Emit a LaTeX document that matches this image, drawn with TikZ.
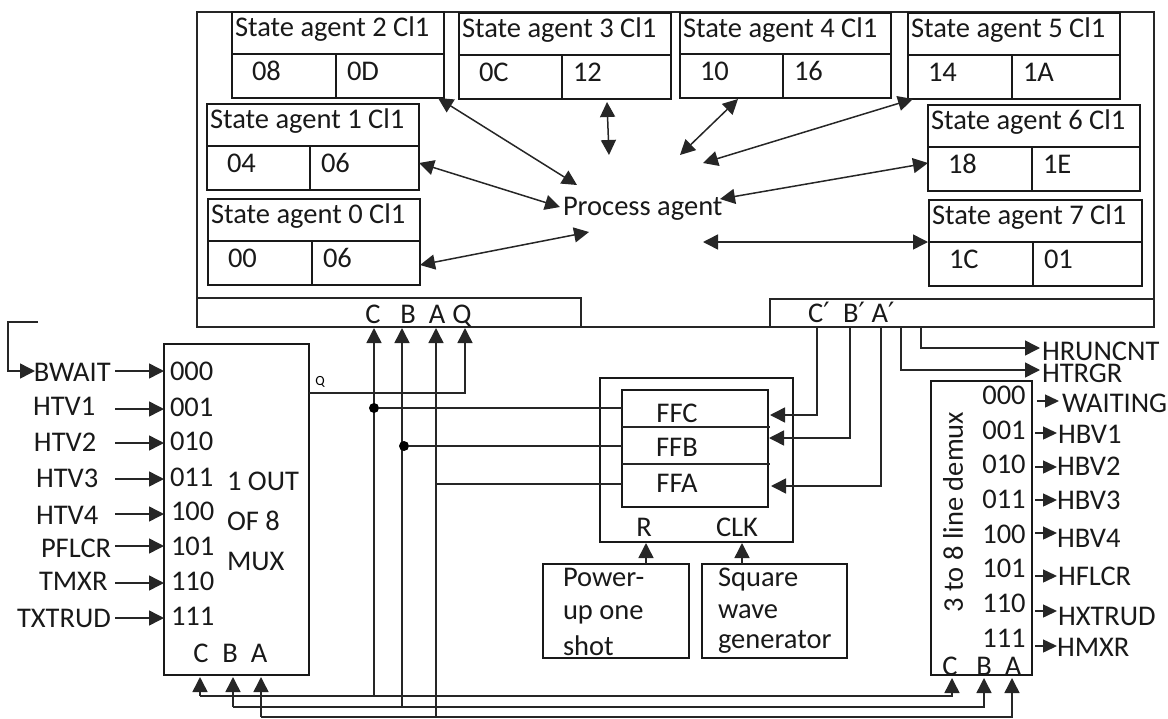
\documentclass[tikz,border=0pt]{standalone}
\usepackage{fontspec}
\setmainfont{Carlito}
\newfontfamily\primefont{DejaVu Sans}
\newcommand{\prm}{{\primefont\fontsize{28}{30}\selectfont ′}}
\usetikzlibrary{arrows.meta}
\tikzset{
  every node/.style={inner sep=0pt,outer sep=0pt},
  wire/.style={line width=1.5pt,draw=black!85},
  cell/.style={draw=black!90,line width=1.6pt,rectangle,anchor=north west},
  lbl/.style={font=\fontsize{28.5}{30}\selectfont,text=black!90,text height=18pt,text depth=0pt},
  onearrow/.style={wire,-{Triangle[length=15pt,width=15pt]}},
  twoarrow/.style={wire,{Triangle[length=15pt,width=15pt]}-{Triangle[length=15pt,width=15pt]}},
  smallarrow/.style={wire,-{Triangle[length=14pt,width=13pt]}},
  dotnode/.style={circle,fill=black,minimum size=10pt},
}
% name, x0, x1, xdiv, y0, ymid, index, left value, right value
\newcommand{\agentbox}[9]{%
  \node[cell,minimum width={(#3-#2)*1pt},minimum height={(#6-#5)*1pt}] (#1t) at (#2,#5) {};
  \node[lbl,anchor=west] (#1title) at (#2+3,#5+15) {State agent #7 Cl1};
  \node[cell,minimum width={(#4-#2)*1pt},minimum height=44pt] (#1l) at (#2,#6) {};
  \node[cell,minimum width={(#3-#4)*1pt},minimum height=44pt] (#1r) at (#4,#6) {};
  \node[lbl,anchor=west] (#1a) at (#2+20,#6+17) {#8};
  \node[lbl,anchor=west] (#1b) at (#4+11,#6+17) {#9};
}
\begin{document}
\begin{tikzpicture}[x=1pt,y=-1pt]
\useasboundingbox (0,0) rectangle (1168,718);

% outer process frame
\coordinate (o1) at (197,12); \coordinate (o2) at (197,327);
\coordinate (o3) at (1154,327); \coordinate (o4) at (1154,12);
\draw[wire] (o1) -- (o2) -- (o3) -- (o4) -- cycle;
\coordinate (b1) at (197,298); \coordinate (b2) at (581,298); \coordinate (b3) at (581,327);
\draw[wire] (b1) -- (b2) -- (b3);
\coordinate (b4) at (770,327); \coordinate (b5) at (770,299); \coordinate (b6) at (1154,299);
\draw[wire] (b4) -- (b5) -- (b6);

% state agents
\agentbox{ag2}{232}{444}{336}{12}{54}{2}{08}{0D}
\agentbox{ag3}{459}{671}{562}{13}{55}{3}{0C}{12}
\agentbox{ag4}{680}{891}{783}{13}{54}{4}{10}{16}
\agentbox{ag5}{908}{1120}{1012}{13}{55}{5}{14}{1A}
\agentbox{ag1}{207}{419}{310}{104}{146}{1}{04}{06}
\agentbox{ag0}{208}{420}{312}{199}{241}{0}{00}{06}
\agentbox{ag6}{928}{1140}{1032}{105}{147}{6}{18}{1E}
\agentbox{ag7}{929}{1142}{1033}{200}{242}{7}{1C}{01}

\node[lbl,anchor=west] (proc) at (563,206) {Process agent};

\foreach \n/\xa/\ya/\xb/\yb in {
  2/438/98/577/185, 3/607/102/609/155, 1/419/163/560/207, 0/420/265/589/232,
  4/738/99/680/155, 5/913/99/703/163, 6/928/163/720/199, 7/928/242/703/242}{
  \coordinate (pa\n) at (\xa,\ya);
  \coordinate (pb\n) at (\xb,\yb);
  \draw[twoarrow] (pa\n) -- (pb\n);
}

% bus labels
\foreach \n/\t/\x in {C/C/373,B/B/408,A/A/437,Q/Q/462}{
  \node[lbl] (top\n) at (\x,314) {\t};
}
\foreach \n/\t/\x in {C/C/819,B/B/854,A/A/883}{
  \node[lbl] (pr\n) at (\x,313) {\t\prm};
}

% MUX
\node[cell,minimum width=145pt,minimum height=331pt] (mux) at (164,344) {};
\foreach \n/\t/\x/\y in {a/000/170/371,b/001/170/407,c/010/170/441,d/011/170/477,
                         e/100/171/511,f/101/171/546,g/110/171/581,h/111/171/616}{
  \node[lbl,anchor=west] (mi\n) at (\x,\y) {\t};
}
\node[lbl,anchor=west] (m1) at (227,481) {1 OUT};
\node[lbl,anchor=west] (m2) at (227,521) {OF 8};
\node[lbl,anchor=west] (m3) at (227,561) {MUX};
\node[lbl] (mC) at (201,653) {C};
\node[lbl] (mB) at (230,653) {B};
\node[lbl] (mA) at (259,653) {A};
\node[font=\fontsize{14}{15}\selectfont] (mQ) at (320,382) {Q};

\foreach \n/\t/\x/\y/\ay in {a/BWAIT/34/372/371,b/HTV1/33/406/409,c/HTV2/34/442/443,d/HTV3/36/478/479,
   e/HTV4/36/515/514,f/PFLCR/41/548/546,g/TMXR/39/581/583,h/TXTRUD/17/618/618}{
  \node[lbl,anchor=west] (in\n) at (\x,\y) {\t};
  \coordinate (as\n) at (115,\ay);
  \coordinate (ae\n) at (164,\ay);
  \draw[onearrow] (as\n) -- (ae\n);
}
% feedback stub
\coordinate (f1) at (38,322); \coordinate (f2) at (8,322); \coordinate (f3) at (8,371); \coordinate (f4) at (35,371);
\draw[onearrow] (f1) -- (f2) -- (f3) -- (f4);

% Q output
\coordinate (q1) at (309,393); \coordinate (q2) at (465,393); \coordinate (q3) at (465,328);
\draw[onearrow] (q1) -- (q2) -- (q3);

% flip-flop block
\node[cell,minimum width=193pt,minimum height=164pt] (ffo) at (600,378) {};
\node[cell,minimum width=146pt,minimum height=117pt] (ffi) at (622,390) {};
\coordinate (d1a) at (622,427); \coordinate (d1b) at (770,427);
\coordinate (d2a) at (622,464); \coordinate (d2b) at (770,464);
\draw[wire] (d1a) -- (d1b);
\draw[wire] (d2a) -- (d2b);
\node[lbl] (tc) at (677,413) {FFC};
\node[lbl] (tb) at (677,447) {FFB};
\node[lbl] (ta) at (677,483) {FFA};
\node[lbl] (tR) at (644,527) {R};
\node[lbl] (tK) at (737,527) {CLK};

% sources
\node[cell,minimum width=146pt,minimum height=94pt] (pow) at (543,564) {};
\node[cell,minimum width=145pt,minimum height=94pt] (sq) at (702,564) {};
\node[lbl,anchor=west] (p1) at (563,577) {Power-};
\node[lbl,anchor=west] (p2) at (563,610) {up one};
\node[lbl,anchor=west] (p3) at (563,646) {shot};
\node[lbl,anchor=west] (s1) at (718,577) {Square};
\node[lbl,anchor=west] (s2) at (718,609) {wave};
\node[lbl,anchor=west] (s3) at (718,639) {generator};
\coordinate (rs) at (646,564); \coordinate (re) at (646,543);
\coordinate (cs) at (742,564); \coordinate (ce) at (742,543);
\draw[onearrow] (rs) -- (re);
\draw[onearrow] (cs) -- (ce);

% selection lines
\coordinate (tC) at (374,328); \coordinate (tB) at (402,328); \coordinate (tA) at (436,328);
\coordinate (jC) at (374,696); \coordinate (jB) at (402,707); \coordinate (jA) at (436,717);
\draw[onearrow] (jC) -- (tC);
\draw[onearrow] (jB) -- (tB);
\draw[onearrow] (jA) -- (tA);
\coordinate (mCe) at (200,677); \coordinate (mBe) at (233,677); \coordinate (mAe) at (261,677);
\coordinate (mCb) at (200,696); \coordinate (mBb) at (233,707); \coordinate (mAb) at (261,717);
\coordinate (dCb) at (952,696); \coordinate (dBb) at (984,707); \coordinate (dAb) at (1012,717);
\coordinate (dCe) at (952,678); \coordinate (dBe) at (984,678); \coordinate (dAe) at (1012,678);
\draw[onearrow] (mCb) -- (mCe);
\draw[onearrow] (mBb) -- (mBe);
\draw[onearrow] (mAb) -- (mAe);
\draw[onearrow] (mCb) -- (dCb) -- (dCe);
\draw[onearrow] (mBb) -- (dBb) -- (dBe);
\draw[onearrow] (mAb) -- (dAb) -- (dAe);

% flip-flop inputs from the lines
\coordinate (dC) at (374,408); \coordinate (dB) at (404,446); \coordinate (dA) at (436,484);
\node[dotnode] (ndC) at (dC) {};
\node[dotnode] (ndB) at (dB) {};
\coordinate (fC) at (622,408); \coordinate (fB) at (622,446); \coordinate (fA) at (622,484);
\draw[wire] (ndC) -- (fC);
\draw[wire] (ndB) -- (fB);
\draw[wire] (dA) -- (fA);

% feedback to flip-flops
\coordinate (c1) at (817,327); \coordinate (c2) at (817,415); \coordinate (c3) at (770,415);
\coordinate (bb1) at (850,327); \coordinate (bb2) at (850,438); \coordinate (bb3) at (769,438);
\coordinate (a1) at (881,327); \coordinate (a2) at (881,486); \coordinate (a3) at (771,486);
\draw[onearrow] (c1) -- (c2) -- (c3);
\draw[onearrow] (bb1) -- (bb2) -- (bb3);
\draw[onearrow] (a1) -- (a2) -- (a3);

% HRUNCNT, HTRGR
\coordinate (r1) at (921,327); \coordinate (r2) at (921,348); \coordinate (r3) at (1040,348);
\coordinate (t1) at (901,327); \coordinate (t2) at (901,370); \coordinate (t3) at (1040,370);
\draw[onearrow] (r1) -- (r2) -- (r3);
\draw[onearrow] (t1) -- (t2) -- (t3);
\node[lbl,anchor=west] (hrun) at (1042,351) {HRUNCNT};
\node[lbl,anchor=west] (htrg) at (1042,373) {HTRGR};

% DEMUX
\node[cell,minimum width=101pt,minimum height=294pt] (dem) at (931,381) {};
\node[font=\fontsize{28.5}{30}\selectfont,text=black!90,rotate=90] (demt) at (953,512) {3 to 8 line demux};
\node[lbl] (dC2) at (950,666) {C};
\node[lbl] (dB2) at (984,666) {B};
\node[lbl] (dA2) at (1013,666) {A};
\foreach \n/\t/\y in {a/000/395,b/001/430,c/010/464,d/011/499,e/100/534,f/101/568,g/110/603,h/111/638}{
  \node[lbl] (do\n) at (1004,\y) {\t};
}
\foreach \n/\t/\xs/\xe/\ay/\tx/\ty in {a/WAITING/1037/1059/401/1062/403,b/HBV1/1035/1057/433/1058/434,
   c/HBV2/1035/1057/467/1057/466,d/HBV3/1035/1057/500/1057/500,e/HBV4/1035/1057/533/1057/538,
   f/HFLCR/1035/1057/576/1058/576,g/HXTRUD/1035/1057/611/1058/616,h/HMXR/1035/1057/646/1057/647}{
  \coordinate (os\n) at (\xs,\ay);
  \coordinate (oe\n) at (\xe,\ay);
  \draw[smallarrow] (os\n) -- (oe\n);
  \node[lbl,anchor=west] (out\n) at (\tx,\ty) {\t};
}
\end{tikzpicture}
\end{document}
